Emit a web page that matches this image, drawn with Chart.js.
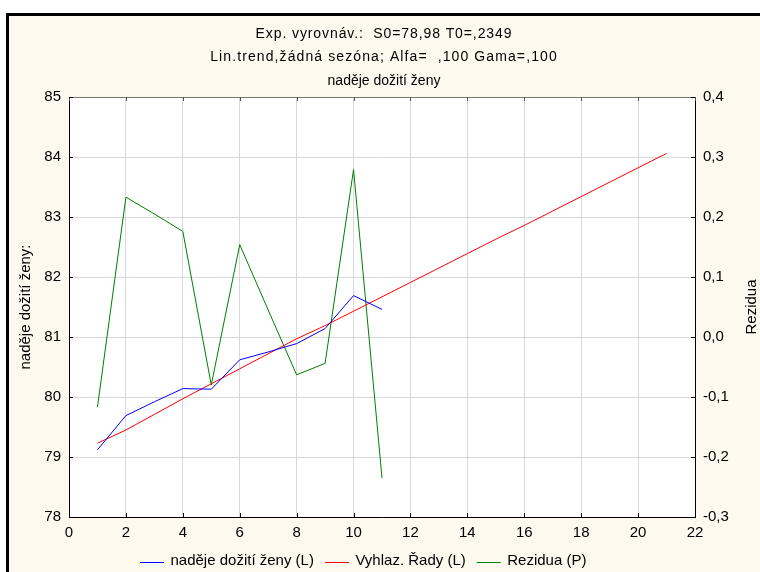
<!DOCTYPE html>
<html>
<head>
<meta charset="utf-8">
<title>naděje dožití ženy</title>
<script src="https://cdn.jsdelivr.net/npm/chart.js@4.4.1/dist/chart.umd.min.js"></script>
<style>
  html, body { margin: 0; padding: 0; background: #fff; }
  #frame {
    position: absolute; left: 6px; top: 13px;
    width: 751px; height: 556px;
    border-left: 3px solid #000; border-top: 3px solid #000;
    background: #fdf9ee;
  }
  #chart { position: absolute; left: 0; top: 0; }
</style>
</head>
<body>
<div id="frame"></div>
<canvas id="chart" width="760" height="572"></canvas>
<script>
// Time index (periods 1..11 observed, 12..21 forecast)
const periods = [1, 2, 3, 4, 5, 6, 7, 8, 9, 10, 11, 12, 13, 14, 15, 16, 17, 18, 19, 20, 21];

// Life expectancy of women (left axis)
const observed = [79.12, 79.69, 79.92, 80.14, 80.13, 80.62, 80.75, 80.89, 81.14, 81.69, 81.46];

// Exponentially smoothed series incl. forecast (left axis)
const smoothed = [79.23, 79.45, 79.71, 79.97, 80.22, 80.47, 80.72, 80.97, 81.19, 81.43, 81.67,
                  81.91, 82.15, 82.39, 82.63, 82.86, 83.10, 83.34, 83.58, 83.82, 84.06];

// Residuals (right axis)
const residuals = [-0.117, 0.233, 0.205, 0.176, -0.080, 0.154, 0.045, -0.063, -0.044, 0.279, -0.235];

const titleLines = [
    'Exp. vyrovnáv.:  S0=78,98 T0=,2349',
    'Lin.trend,žádná sezóna; Alfa=  ,100 Gama=,100',
    'naděje dožití ženy'
];
const titleSpacing = [0.9, 1.1, 0];   // extra letter spacing per title line, px
const leftAxisTitle = 'naděje dožití ženy:';
const rightAxisTitle = 'Rezidua';
const seriesNames = ['naděje dožití ženy (L)', 'Vyhlaz. Řady (L)', 'Rezidua (P)'];
const seriesColors = ['#0000ff', '#ff0000', '#008000'];

const FONT = '"Liberation Sans", Arial, sans-serif';
const GRID = '#d9d9d9';

function toPoints(values) {
    return values.map((v, i) => ({ x: periods[i], y: v }));
}

function commaNum(v) {
    if (Math.abs(v) < 1e-9) v = 0;
    return v.toFixed(1).replace('.', ',');
}

// White plot area behind the lines
const plotBackground = {
    id: 'plotBackground',
    beforeDraw(chart) {
        const { ctx, chartArea: a } = chart;
        ctx.save();
        ctx.fillStyle = '#ffffff';
        ctx.fillRect(a.left, a.top, a.right - a.left, a.bottom - a.top);
        ctx.restore();
    }
};

// Short tick marks pointing into the plot, plus the top frame line
const innerTicks = {
    id: 'innerTicks',
    afterDatasetsDraw(chart) {
        const { ctx, chartArea: a, scales } = chart;
        const len = 4;
        ctx.save();
        ctx.lineWidth = 1;

        ctx.strokeStyle = '#777';
        ctx.beginPath();
        ctx.moveTo(a.left, a.top + 0.5);
        ctx.lineTo(a.right, a.top + 0.5);
        ctx.stroke();

        scales.x.ticks.forEach(t => {
            const px = Math.round(scales.x.getPixelForValue(t.value)) + 0.5;
            ctx.strokeStyle = '#000';
            ctx.beginPath();
            ctx.moveTo(px, a.bottom);
            ctx.lineTo(px, a.bottom - len);
            ctx.stroke();
            ctx.strokeStyle = '#555';
            ctx.beginPath();
            ctx.moveTo(px, a.top);
            ctx.lineTo(px, a.top + len);
            ctx.stroke();
        });
        ctx.strokeStyle = '#000';
        scales.y.ticks.forEach(t => {
            const py = Math.round(scales.y.getPixelForValue(t.value)) + 0.5;
            ctx.beginPath();
            ctx.moveTo(a.left, py);
            ctx.lineTo(a.left + len, py);
            ctx.stroke();
        });
        scales.y1.ticks.forEach(t => {
            const py = Math.round(scales.y1.getPixelForValue(t.value)) + 0.5;
            ctx.beginPath();
            ctx.moveTo(a.right, py);
            ctx.lineTo(a.right - len, py);
            ctx.stroke();
        });
        ctx.restore();
    }
};

// Title block, right axis caption and legend row
const captions = {
    id: 'captions',
    afterDraw(chart) {
        const { ctx, chartArea: a } = chart;
        ctx.save();
        ctx.fillStyle = '#000';

        // three-line title
        ctx.font = '14px ' + FONT;
        ctx.textAlign = 'center';
        ctx.textBaseline = 'middle';
        titleLines.forEach((line, i) => {
            ctx.letterSpacing = titleSpacing[i] + 'px';
            ctx.fillText(line, 384, 34 + i * 23.5);
        });
        ctx.letterSpacing = '0px';

        // right axis caption, reading bottom to top
        ctx.save();
        ctx.font = '15px ' + FONT;
        ctx.translate(752, (a.top + a.bottom) / 2);
        ctx.rotate(-Math.PI / 2);
        ctx.fillText(rightAxisTitle, 0, 0);
        ctx.restore();

        // legend: short coloured line + series name
        const sample = 24, gapText = 6.5, gapItem = 11;
        const cy = 561;
        let x = 140;
        ctx.font = '15px ' + FONT;
        ctx.textAlign = 'left';
        ctx.textBaseline = 'middle';
        ctx.lineWidth = 1;
        chart.data.datasets.forEach((ds, i) => {
            ctx.strokeStyle = seriesColors[i];
            ctx.beginPath();
            ctx.moveTo(x, cy + 1.5);
            ctx.lineTo(x + sample, cy + 1.5);
            ctx.stroke();
            x += sample + gapText;
            ctx.fillStyle = '#000';
            ctx.fillText(ds.label, x, cy);
            x += ctx.measureText(ds.label).width + gapItem;
        });
        ctx.restore();
    }
};

const ctx = document.getElementById('chart');

new Chart(ctx, {
    type: 'line',
    data: {
        datasets: [
            {
                label: seriesNames[0],
                data: toPoints(observed),
                borderColor: seriesColors[0],
                yAxisID: 'y'
            },
            {
                label: seriesNames[1],
                data: toPoints(smoothed),
                borderColor: seriesColors[1],
                yAxisID: 'y'
            },
            {
                label: seriesNames[2],
                data: toPoints(residuals),
                borderColor: seriesColors[2],
                yAxisID: 'y1'
            }
        ]
    },
    options: {
        responsive: false,
        devicePixelRatio: 1,
        animation: false,
        layout: { padding: { top: 97, left: 0, right: 0, bottom: 0 } },
        elements: {
            line: { borderWidth: 1, tension: 0, fill: false },
            point: { radius: 0, hoverRadius: 0 }
        },
        plugins: {
            legend: { display: false },
            tooltip: { enabled: false },
            title: { display: false }
        },
        scales: {
            x: {
                type: 'linear',
                position: 'bottom',
                min: 0,
                max: 22,
                afterFit(scale) { scale.height = 55; },
                ticks: {
                    stepSize: 2,
                    padding: 7,
                    color: '#000',
                    font: { family: FONT, size: 15 },
                    callback: v => String(v)
                },
                grid: { color: GRID, drawTicks: false },
                border: { color: '#000', width: 1 }
            },
            y: {
                position: 'left',
                min: 78,
                max: 85,
                afterFit(scale) { scale.width = 69; },
                ticks: {
                    stepSize: 1,
                    padding: 8,
                    color: '#000',
                    font: { family: FONT, size: 15 }
                },
                grid: { color: GRID, drawTicks: false },
                border: { color: '#000', width: 1 },
                title: {
                    display: true,
                    text: leftAxisTitle,
                    color: '#000',
                    font: { family: FONT, size: 15 },
                    padding: { top: 17, bottom: 0 }
                }
            },
            y1: {
                position: 'right',
                min: -0.3,
                max: 0.4,
                afterFit(scale) { scale.width = 65; },
                ticks: {
                    stepSize: 0.1,
                    padding: 8,
                    color: '#000',
                    font: { family: FONT, size: 15 },
                    callback: v => commaNum(v)
                },
                grid: { display: false, drawTicks: false },
                border: { color: '#000', width: 1 }
            }
        }
    },
    plugins: [plotBackground, innerTicks, captions]
});
</script>
</body>
</html>
